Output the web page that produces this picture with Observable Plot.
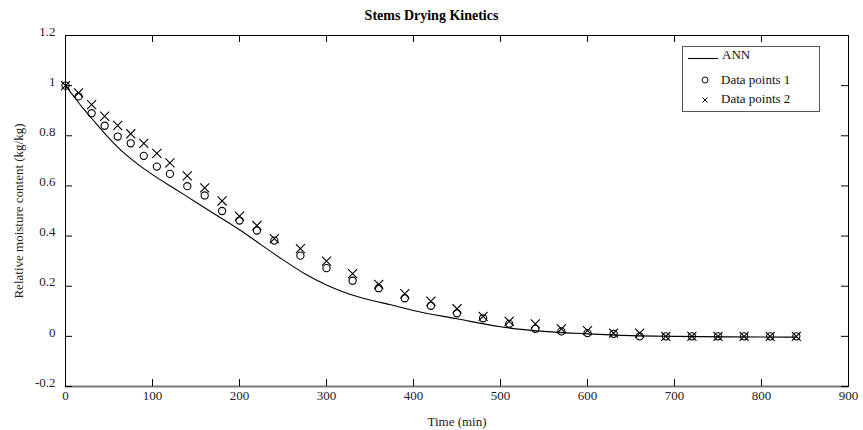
<!DOCTYPE html>
<html><head><meta charset="utf-8">
<script src="https://cdn.jsdelivr.net/npm/d3@7"></script>
<script src="https://cdn.jsdelivr.net/npm/@observablehq/plot@0.6"></script>
<style>
body{margin:0;background:#fff;}
#wrap{position:relative;width:863px;height:430px;font-family:"Liberation Serif","Times New Roman",serif;color:#000;}
#title{position:absolute;left:0;width:863px;top:8px;text-align:center;font-weight:bold;font-size:14px;}
#legend{position:absolute;left:682px;top:46px;}
</style></head><body>
<div id="wrap"><div id="chart"></div><div id="title"></div><div id="legend"></div></div>
<script>
const title = "Stems Drying Kinetics";
const xLabel = "Time (min)";
const yLabel = "Relative moisture content (kg/kg)";
const seriesNames = ["ANN", "Data points 1", "Data points 2"];

const times = [0, 15, 30, 45, 60, 75, 90, 105, 120, 140, 160, 180, 200, 220, 240, 270, 300, 330, 360, 390, 420, 450, 480, 510, 540, 570, 600, 630, 660, 690, 720, 750, 780, 810, 840];
const points1 = [1.0, 0.957, 0.89, 0.84, 0.797, 0.77, 0.72, 0.677, 0.648, 0.599, 0.562, 0.50, 0.462, 0.422, 0.382, 0.322, 0.272, 0.222, 0.192, 0.152, 0.122, 0.092, 0.072, 0.05, 0.03, 0.02, 0.013, 0.01, 0.0, 0.0, 0.0, 0.0, 0.0, 0.0, 0.0];
const points2 = [1.0, 0.971, 0.924, 0.878, 0.841, 0.808, 0.77, 0.73, 0.692, 0.64, 0.592, 0.54, 0.479, 0.442, 0.39, 0.35, 0.30, 0.25, 0.207, 0.17, 0.14, 0.11, 0.08, 0.06, 0.05, 0.03, 0.023, 0.013, 0.013, 0.0, 0.0, 0.0, 0.0, 0.0, 0.0];

const annTime = [0, 10, 20, 30, 45, 60, 80, 100, 125, 150, 175, 200, 225, 250, 275, 300, 325, 350, 375, 400, 450, 500, 550, 600, 650, 700, 760, 840];
const annValue = [1.0, 0.955, 0.91, 0.87, 0.81, 0.755, 0.695, 0.645, 0.59, 0.535, 0.48, 0.425, 0.365, 0.305, 0.25, 0.205, 0.17, 0.145, 0.125, 0.103, 0.07, 0.038, 0.02, 0.01, 0.003, 0.0, -0.002, -0.003];

const xTicks = [0, 100, 200, 300, 400, 500, 600, 700, 800, 900];
const yTicks = [-0.2, 0, 0.2, 0.4, 0.6, 0.8, 1.0, 1.2];

const W = 863, H = 430, mL = 65, mR = 15, mT = 35, mB = 44;
const innerW = W - mL - mR, innerH = H - mT - mB, tickLen = 7;

const data1 = times.map((t, i) => ({t, v: points1[i]}));
const data2 = times.map((t, i) => ({t, v: points2[i]}));
const ann = annTime.map((t, i) => ({t, v: annValue[i]}));

const fmt = d => String(+(+d).toFixed(1));

const chart = Plot.plot({
  width: W, height: H,
  marginLeft: mL, marginRight: mR, marginTop: mT, marginBottom: mB,
  style: {fontFamily: '"Liberation Serif","Times New Roman",serif', fontSize: "13px", color: "#000", background: "#fff"},
  x: {domain: [0, 900]},
  y: {domain: [-0.2, 1.2]},
  marks: [
    Plot.frame({stroke: "#000", strokeWidth: 1}),
    Plot.ruleY([-0.2], {stroke: "#7a7a7a", strokeWidth: 2}),
    Plot.tickX(xTicks, {x: d => d, insetTop: innerH - tickLen, stroke: "#000"}),
    Plot.tickX(xTicks, {x: d => d, insetBottom: innerH - tickLen, stroke: "#000"}),
    Plot.tickY(yTicks, {y: d => d, insetRight: innerW - tickLen, stroke: "#000"}),
    Plot.tickY(yTicks, {y: d => d, insetLeft: innerW - tickLen, stroke: "#000"}),
    Plot.axisX(xTicks, {tickSize: 0, tickPadding: 4, label: xLabel, labelAnchor: "center", labelArrow: "none", labelOffset: 39, fill: "#222", fontSize: 13}),
    Plot.axisY(yTicks, {tickSize: 0, tickPadding: 10, tickFormat: fmt, dy: -4, label: null, fill: "#222", fontSize: 13}),
    Plot.text([yLabel], {frameAnchor: "left", textAnchor: "middle", rotate: -90, dx: -47, fill: "#222", fontSize: 13}),
    Plot.line(ann, {x: "t", y: "v", stroke: "#000", strokeWidth: 1.1, curve: "monotone-x"}),
    Plot.dot(data1, {x: "t", y: "v", r: 3.6, symbol: "circle", stroke: "#000", strokeWidth: 1.1, fill: "none"}),
    Plot.dot(data2, {x: "t", y: "v", r: 4.2, symbol: "times", stroke: "#000", strokeWidth: 1.1})
  ]
});
document.getElementById("chart").appendChild(chart);
document.getElementById("title").textContent = title;

// legend
const ns = "http://www.w3.org/2000/svg";
const lg = document.createElementNS(ns, "svg");
lg.setAttribute("width", 138); lg.setAttribute("height", 66);
lg.style.fontFamily = '"Liberation Serif","Times New Roman",serif';
lg.style.fontSize = "13px";
function el(tag, attrs, text) {
  const e = document.createElementNS(ns, tag);
  for (const k in attrs) e.setAttribute(k, attrs[k]);
  if (text != null) e.textContent = text;
  lg.appendChild(e);
  return e;
}
el("rect", {x: 0.5, y: 0.5, width: 137, height: 65, fill: "#fff", stroke: "#555"});
el("line", {x1: 6, x2: 36, y1: 12.5, y2: 12.5, stroke: "#000", "stroke-width": 1.1});
el("text", {x: 40, y: 13, fill: "#111"}, seriesNames[0]);
el("circle", {cx: 23, cy: 34, r: 3, fill: "none", stroke: "#000", "stroke-width": 1});
el("text", {x: 39, y: 38, fill: "#111"}, seriesNames[1]);
el("path", {d: "M20.5,51.5L25.5,56.5M20.5,56.5L25.5,51.5", stroke: "#000", "stroke-width": 1});
el("text", {x: 39, y: 57, fill: "#111"}, seriesNames[2]);
document.getElementById("legend").appendChild(lg);
</script>
</body></html>
